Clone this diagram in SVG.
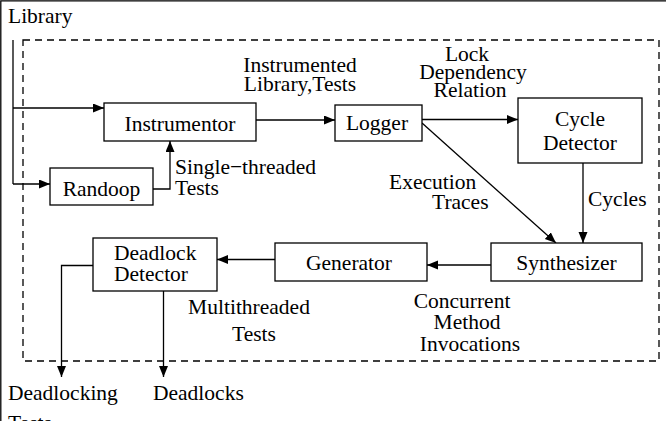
<svg xmlns="http://www.w3.org/2000/svg" width="666" height="421" viewBox="0 0 666 421">
<style>
text{font-family:'Liberation Serif','DejaVu Serif',serif;font-size:21.5px;fill:#000}
.c{text-anchor:middle}
.box{fill:#fff;stroke:#000;stroke-width:1.3}
.ln{fill:none;stroke:#000;stroke-width:1.3}
</style>
<defs>
<marker id="ah" markerUnits="userSpaceOnUse" markerWidth="12" markerHeight="10" refX="11" refY="4.5" orient="auto">
<path d="M0,0 L11,4.5 L0,9 z" fill="#000"/>
</marker>
</defs>
<rect width="666" height="421" fill="#fff"/>
<path d="M0.8,421 V0.8 H666" class="ln"/>
<rect x="23" y="40" width="636" height="321" fill="none" stroke="#000" stroke-width="1.3" stroke-dasharray="7,5"/>
<g font-family="Liberation Serif, serif">
<text x="8" y="23">Library</text>
<g id="connectors">
<path class="ln" d="M13,40 V184"/>
<path class="ln" d="M13,108 H104" marker-end="url(#ah)"/>
<path class="ln" d="M13,184 H50" marker-end="url(#ah)"/>
<path class="ln" d="M153,189 H170 V141" marker-end="url(#ah)"/>
<path class="ln" d="M256,120 H335" marker-end="url(#ah)"/>
<path class="ln" d="M422,119.5 H518" marker-end="url(#ah)"/>
<path class="ln" d="M422,123 L556,243" marker-end="url(#ah)"/>
<path class="ln" d="M583,163 V243" marker-end="url(#ah)"/>
<path class="ln" d="M491,265 H427" marker-end="url(#ah)"/>
<path class="ln" d="M275,259.5 H217" marker-end="url(#ah)"/>
<path class="ln" d="M93,265.5 H61.5 V377" marker-end="url(#ah)"/>
<path class="ln" d="M163.5,291 V377" marker-end="url(#ah)"/>
</g>
<g id="labels">
<text class="c" x="300" y="72">Instrumented</text>
<text class="c" x="300" y="91">Library,Tests</text>
<text class="c" x="467" y="61">Lock</text>
<text class="c" x="473" y="79">Dependency</text>
<text class="c" x="470" y="97">Relation</text>
<text x="389" y="189">Execution</text>
<text x="432" y="209">Traces</text>
<text x="588" y="206">Cycles</text>
<text x="175" y="173.5">Single−threaded</text>
<text x="175" y="195">Tests</text>
<text class="c" x="249" y="314">Multithreaded</text>
<text class="c" x="254" y="341">Tests</text>
<text class="c" x="462" y="308">Concurrent</text>
<text class="c" x="467" y="328.5">Method</text>
<text class="c" x="470" y="351">Invocations</text>
<text x="8" y="400">Deadlocking</text>
<text x="8" y="430">Tests</text>
<text x="153" y="400">Deadlocks</text>
</g>
<g id="instrumentor">
<rect class="box" x="104" y="103" width="152" height="38"/>
<text class="c" x="180" y="131">Instrumentor</text>
</g>
<g id="randoop">
<rect class="box" x="50" y="168" width="103" height="37"/>
<text class="c" x="101.5" y="195.5">Randoop</text>
</g>
<g id="logger">
<rect class="box" x="335" y="105" width="87" height="36"/>
<text class="c" x="377" y="130">Logger</text>
</g>
<g id="cycle-detector">
<rect class="box" x="518" y="98" width="124" height="65"/>
<text class="c" x="580" y="126">Cycle</text>
<text class="c" x="580" y="150">Detector</text>
</g>
<g id="synthesizer">
<rect class="box" x="491" y="243" width="151" height="38"/>
<text class="c" x="566.5" y="269.5">Synthesizer</text>
</g>
<g id="generator">
<rect class="box" x="275" y="243" width="152" height="38"/>
<text class="c" x="349" y="270">Generator</text>
</g>
<g id="deadlock-detector">
<rect class="box" x="93" y="238" width="124" height="53"/>
<text x="114" y="260">Deadlock</text>
<text x="114" y="281">Detector</text>
</g>
</g>
</svg>
